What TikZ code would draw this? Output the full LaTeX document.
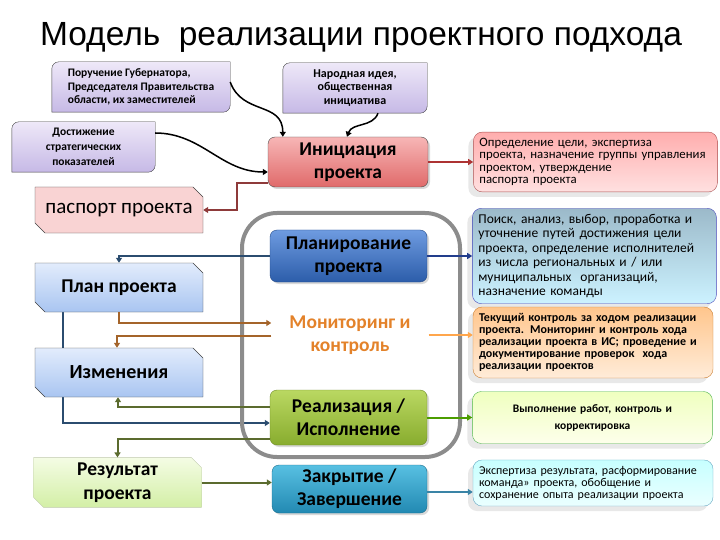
\documentclass[tikz,border=0pt]{standalone}
\usepackage{fontspec}
\setmainfont{Carlito}
\newfontfamily\titlefont{Liberation Sans}
\usetikzlibrary{shapes.misc, arrows.meta, positioning, backgrounds, shadows}

% --- Colours ---
\definecolor{ideaTop}{HTML}{EEE8F8}
\definecolor{ideaBot}{HTML}{C6B9E6}
\definecolor{paspFill}{HTML}{F9D3D3}
\definecolor{docTop}{HTML}{E2ECFC}
\definecolor{docBot}{HTML}{A9C5F1}
\definecolor{resTop}{HTML}{F4FCE4}
\definecolor{resBot}{HTML}{D3EFA6}
\definecolor{initTop}{HTML}{F7B6B6}
\definecolor{initBot}{HTML}{E06A6A}
\definecolor{planTop}{HTML}{6E9BE0}
\definecolor{planBot}{HTML}{2C5DAA}
\definecolor{realTop}{HTML}{BAD862}
\definecolor{realBot}{HTML}{88AC2E}
\definecolor{closeTop}{HTML}{58C0E2}
\definecolor{closeBot}{HTML}{2289B2}
\definecolor{monitText}{HTML}{E3822A}
\definecolor{lineRed}{HTML}{8E3A3A}
\definecolor{lineBlue}{HTML}{2B4C6F}
\definecolor{lineBrown}{HTML}{A4642A}
\definecolor{lineOlive}{HTML}{5B6B2E}
\definecolor{lineTeal}{HTML}{3A84A6}

\begin{document}
\begin{tikzpicture}[x=1pt, y=-1pt,
    % --- Node styles ---
    ideabox/.style = {rectangle, minimum width=#1, minimum height=50pt,
        inner sep=4pt, font=\fontsize{11.5}{13.3}\selectfont\bfseries},
    docbox/.style = {chamfered rectangle, chamfered rectangle corners={north east, south west},
        chamfered rectangle xsep=5pt, chamfered rectangle ysep=5pt,
        draw=black!75, thin, minimum width=168pt, minimum height=49pt,
        inner sep=0pt, align=center, font=\fontsize{19.5}{23}\selectfont\bfseries},
    stage/.style = {rectangle, rounded corners=7pt, draw=black!70, thin,
        minimum width=157pt, minimum height=52pt, align=center,
        font=\fontsize{19.5}{23}\selectfont\bfseries, inner sep=2pt,
        drop shadow={shadow xshift=2pt, shadow yshift=-2pt, opacity=0.3}},
    note/.style = {rectangle, rounded corners=9pt, draw=#1, thin,
        minimum width=240pt, text width=228pt, align=left, inner sep=6pt,
        font=\fontsize{12}{12}\selectfont,
        drop shadow={shadow xshift=-5pt, shadow yshift=-5pt, opacity=0.18}},
    % --- Arrow styles ---
    link/.style = {line width=2pt, draw=#1, -{Triangle[length=5pt, width=6pt]}},
    curvelink/.style = {line width=1.5pt, draw=black, -{Triangle[length=5pt, width=6pt]}},
    % --- Group frame ---
    phaseframe/.style = {rectangle, rounded corners=35pt, draw=black!45,
        line width=4pt, minimum width=218pt, minimum height=244pt}
]
\useasboundingbox (0,0) rectangle (720,540);

% ==================== TITLE ====================
\node (title) at (361,37) {\titlefont\fontsize{33.5}{40}\selectfont Модель~ реализации проектного подхода};

% ==================== INPUTS ====================
\node[ideabox=178pt, align=left] (order) at (141,87)
    {Поручение Губернатора,\\Председателя Правительства\\области, их заместителей};
\node[ideabox=144pt, align=center, font=\fontsize{12}{13.3}\selectfont\bfseries] (idea) at (355,88)
    {Народная идея,\\общественная\\инициатива};
\node[ideabox=143pt, align=center, font=\fontsize{11.5}{15}\selectfont\bfseries] (goal) at (83.5,147)
    {Достижение\\стратегических\\показателей};

\begin{scope}[on background layer]
  \foreach \nm in {order, idea, goal} {
    \draw[draw=black!75, top color=ideaTop, bottom color=ideaBot]
      (\nm.south west) -- ([yshift=-7pt]\nm.north west)
      arc[start angle=180, end angle=90, radius=7pt] -- (\nm.north east)
      -- ([yshift=7pt]\nm.south east)
      arc[start angle=0, end angle=-90, radius=7pt] -- cycle;
  }
\end{scope}

% ==================== DOCUMENTS ====================
\node[docbox, fill=paspFill, minimum height=46pt, font=\fontsize{21}{23}\selectfont] (pasp) at (119,210) {паспорт проекта};
\node[docbox, top color=docTop, bottom color=docBot] (plan) at (119,287.5) {План проекта};
\node[docbox, top color=docTop, bottom color=docBot, font=\fontsize{20}{23}\selectfont\bfseries] (change) at (119,372.5) {Изменения};
\node[docbox, draw=resBot!70!black!60, top color=resTop, bottom color=resBot, font=\fontsize{19.5}{24}\selectfont\bfseries] (result) at (117.5,482.5) {Результат\\проекта};

% ==================== STAGES ====================
\node[phaseframe] (frame) at (351,335) {};

\node[stage, top color=initTop, bottom color=initBot, minimum width=160pt, minimum height=50pt] (init) at (348,162) {Инициация\\проекта};
\node[stage, top color=planTop, bottom color=planBot, draw=planBot!80!black] (planning) at (348.5,256) {Планирование\\проекта};
\node[align=center, minimum width=157pt, text=monitText, font=\fontsize{19.5}{23}\selectfont\bfseries] (monit) at (350,335) {Мониторинг и\\контроль};
\node[stage, top color=realTop, bottom color=realBot, draw=realBot!80!black, minimum height=55pt] (real) at (348.5,417.5) {Реализация /\\Исполнение};
\node[stage, top color=closeTop, bottom color=closeBot, draw=closeBot!80!black, minimum width=155pt, minimum height=48pt] (close) at (349.5,489) {Закрытие /\\Завершение};

% ==================== NOTES ====================
\node[note=red!35!gray, top color=red!32, bottom color=red!12, minimum width=244pt, text width=232pt, minimum height=53pt,
      font=\fontsize{12.8}{12.5}\selectfont, right=45pt of init] (n1)
    {Определение цели, экспертиза\\проекта, назначение группы управления\\проектом, утверждение\\паспорта проекта};
\node[note=blue!45!gray, top color=blue!35!cyan!30!gray!60, bottom color=blue!25!cyan!20!white, minimum width=244pt, text width=232pt, minimum height=95pt,
      font=\fontsize{13.5}{14.4}\selectfont, right=45pt of planning] (n2)
    {Поиск, анализ, выбор, проработка и\\уточнение путей достижения цели\\проекта, определение исполнителей\\из числа региональных и / или\\муниципальных~ организаций,\\назначение команды};
\node[note=orange!60!gray, top color=orange!45, bottom color=orange!15, minimum height=71pt,
      font=\fontsize{12}{12}\selectfont\bfseries] (n3) at (593,342.5)
    {Текущий контроль за ходом реализации\\проекта. Мониторинг и контроль хода\\реализации проекта в ИС; проведение и\\документирование проверок~ хода\\реализации проектов};
\node[note=green!40!gray, top color=green!25!yellow!25, bottom color=green!8!yellow!8, minimum height=52pt, align=center,
      font=\fontsize{11.5}{17}\selectfont\bfseries, right=45pt of real] (n4)
    {Выполнение работ, контроль и\\корректировка};
\node[note=cyan!50!gray, top color=cyan!22, bottom color=cyan!8, minimum height=40pt] (n5) at (593,483)
    {Экспертиза результата, расформирование\\команда» проекта, обобщение и\\сохранение опыта реализации проекта};

% ==================== ARROWS ====================
\draw[curvelink] ([yshift=5pt]order.east) to[out=-70, in=90, looseness=1.2] ([xshift=15pt]init.north west);
\draw[curvelink] ([xshift=23pt]idea.south) to[out=-110, in=70] ([xshift=-1pt]init.north);
\draw[curvelink] ([yshift=14pt]goal.east) to[out=0, in=180] ([yshift=-10pt]init.west);

\draw[link=red!60!black!80] (init.east) -- (init.east -| n1.west);
\draw[link=lineRed] ([yshift=-21pt]init.west) -- ++(-31,0) |- (pasp.east);

\draw[link=lineBlue] (planning.west) -| (plan.north);
\draw[link=lineBlue!80!blue] (planning.east) -- (planning.east -| n2.west);

\draw[link=lineBrown] (plan.south) |- ([yshift=12pt]monit.west);
\draw[link=lineBrown] ([yshift=-1pt]monit.west) -| ([xshift=-2pt]change.north);
\draw[link=orange!70] (monit.east) -- (monit.east -| n3.west);

\begin{scope}[on background layer]
  \draw[link=lineBlue] ([xshift=-56pt]plan.south) |- ([yshift=-5.5pt]real.west);
\end{scope}
\draw[link=lineOlive] ([yshift=10.5pt]real.west) -| ([xshift=-1pt]change.south);
\draw[link=lineOlive] ([yshift=-21.5pt]real.west) -| (result.north);
\draw[link=green!45!black!70!yellow] (real.east) -- (real.east -| n4.west);

\draw[link=lineOlive] (result.east) -- (result.east -| close.west);
\draw[link=lineTeal] ([yshift=-3pt]close.east) -- ([yshift=-3pt]close.east -| n5.west);

\end{tikzpicture}
\end{document}
